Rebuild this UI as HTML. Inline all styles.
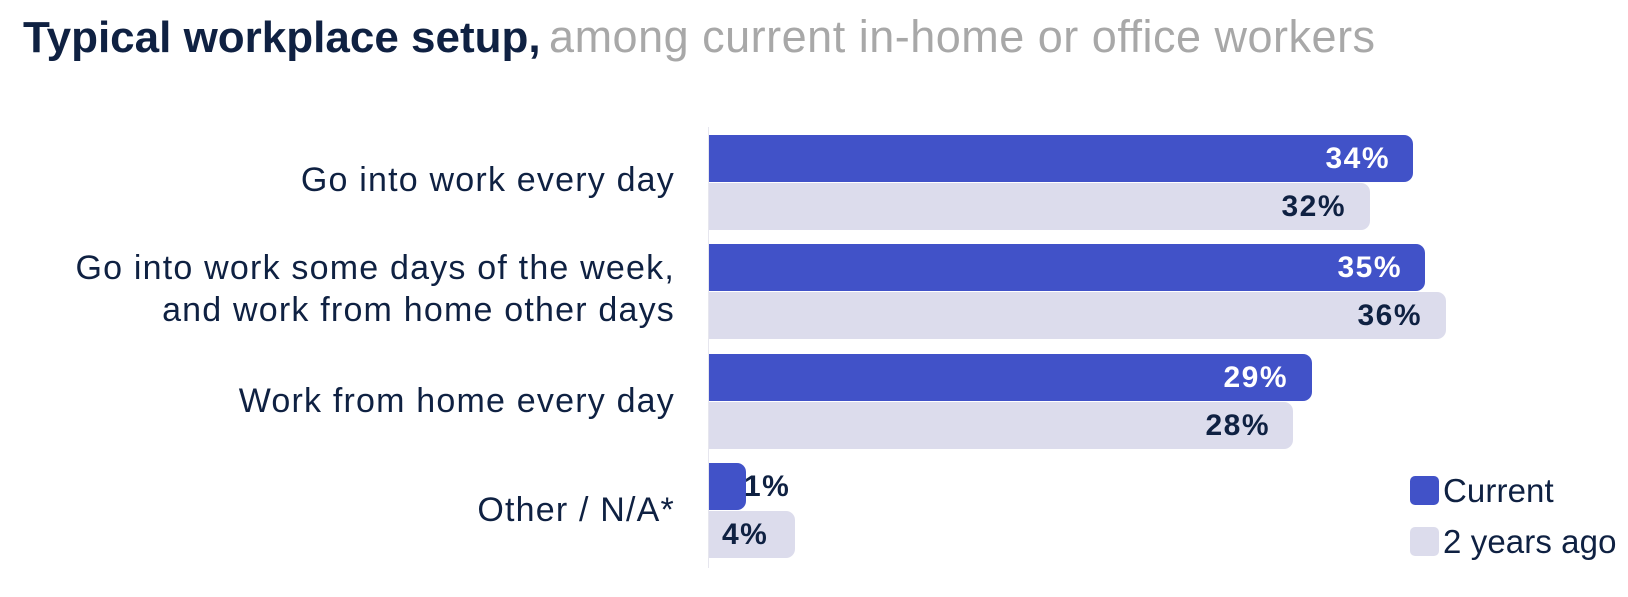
<!DOCTYPE html>
<html><head><meta charset="utf-8"><style>
body{margin:0;width:1628px;height:597px;background:#fff;position:relative;overflow:hidden;font-family:"Liberation Sans",sans-serif;color:#0f2142}
.t{position:absolute;left:23px;top:11px;white-space:nowrap}
.t b{color:#0f2142;font-size:44px}.t span{color:#a8a8a8;font-size:45px;letter-spacing:0.5px;margin-left:4px}
.ax{position:absolute;left:708px;top:127px;width:1px;height:441px;background:#e6e6ee}
.bar{position:absolute;left:709px;height:47px;border-radius:0 9px 9px 0}
.c{background:#4152c8}.p{background:#dcdcec}
.v{position:absolute;font-weight:bold;font-size:30px;letter-spacing:1.5px;line-height:48px;text-align:right}
.w{color:#fff}
.lab{position:absolute;right:953px;font-size:34px;letter-spacing:1.2px;text-align:right;line-height:42px;white-space:nowrap}
.lg{position:absolute;left:1410px;width:29px;height:29px;border-radius:5px}
.lt{position:absolute;left:1443px;font-size:33px;letter-spacing:0.1px;line-height:30px}
</style></head><body>
<div class="t"><b>Typical workplace setup,</b> <span>among current in-home or office workers</span></div>
<div class="ax"></div>
<div class="lab" style="top:159px">Go into work every day</div>
<div class="lab" style="top:247px">Go into work some days of the week,<br>and work from home other days</div>
<div class="lab" style="top:380px">Work from home every day</div>
<div class="lab" style="top:489px">Other / N/A*</div>

<div class="bar c" style="top:135px;width:704px"></div>
<div class="v w" style="top:135px;left:1196px;width:194px">34%</div>
<div class="bar p" style="top:183px;width:661px"></div>
<div class="v" style="top:183px;left:1152px;width:194px">32%</div>

<div class="bar c" style="top:244px;width:716px"></div>
<div class="v w" style="top:244px;left:1208px;width:194px">35%</div>
<div class="bar p" style="top:292px;width:737px"></div>
<div class="v" style="top:292px;left:1228px;width:194px">36%</div>

<div class="bar c" style="top:354px;width:603px"></div>
<div class="v w" style="top:354px;left:1094px;width:194px">29%</div>
<div class="bar p" style="top:402px;width:584px"></div>
<div class="v" style="top:402px;left:1076px;width:194px">28%</div>

<div class="bar c" style="top:463px;width:37px"></div>
<div class="v" style="top:463px;left:744px">1%</div>
<div class="bar p" style="top:511px;width:86px"></div>
<div class="v" style="top:511px;left:722px">4%</div>

<div class="lg c" style="top:476px"></div><div class="lt" style="top:476px">Current</div>
<div class="lg p" style="top:527px"></div><div class="lt" style="top:527px">2 years ago</div>
</body></html>
